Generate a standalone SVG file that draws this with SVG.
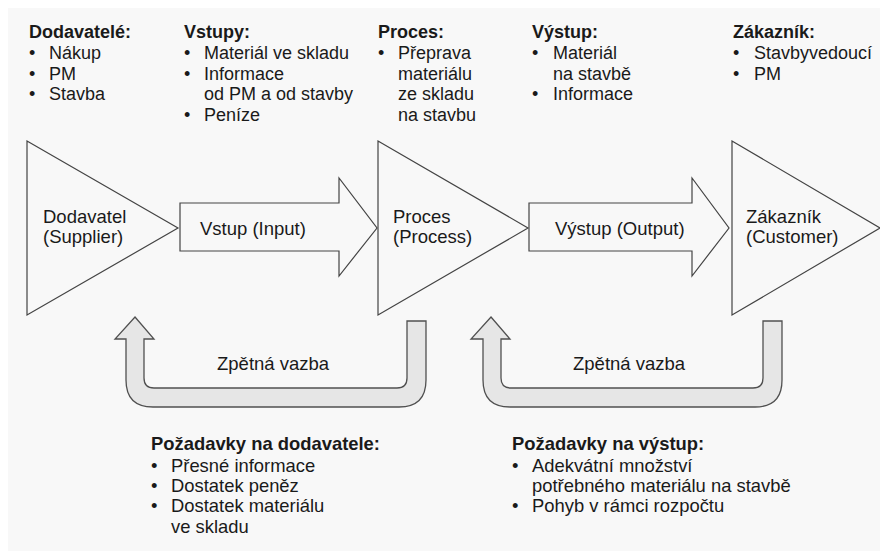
<svg xmlns="http://www.w3.org/2000/svg" width="880" height="551" viewBox="0 0 880 551">
<style>
text{font-family:"Liberation Sans",Arial,sans-serif;fill:#1a1a1a;font-size:18px}
.h{font-weight:bold}
.n{font-size:18.5px}
.b{font-size:18.4px}
.shape{fill:#f8f8f8;stroke:#444;stroke-width:1.2}
.fb{fill:#e6e6e6;stroke:#505050;stroke-width:1.3}
</style>
<rect x="0" y="0" width="880" height="551" fill="#ffffff"/>
<rect x="8" y="8" width="872" height="543" fill="#f8f8f8"/>

<g id="info-dodavatele">
<text class="h" x="29" y="38">Dodavatelé:</text>
<text x="29" y="59">•</text><text x="49" y="59">Nákup</text>
<text x="29" y="79.5">•</text><text x="49" y="79.5">PM</text>
<text x="29" y="100">•</text><text x="49" y="100">Stavba</text>
</g>
<g id="info-vstupy">
<text class="h" x="184" y="38">Vstupy:</text>
<text x="184" y="59">•</text><text x="204" y="59">Materiál ve skladu</text>
<text x="184" y="79.5">•</text><text x="204" y="79.5">Informace</text>
<text x="204" y="100">od PM a od stavby</text>
<text x="184" y="120.5">•</text><text x="204" y="120.5">Peníze</text>
</g>
<g id="info-proces">
<text class="h" x="378" y="38">Proces:</text>
<text x="378" y="59">•</text><text x="398" y="59">Přeprava</text>
<text x="398" y="79.5">materiálu</text>
<text x="398" y="100">ze skladu</text>
<text x="398" y="120.5">na stavbu</text>
</g>
<g id="info-vystup">
<text class="h" x="532" y="38">Výstup:</text>
<text x="532" y="59">•</text><text x="553" y="59">Materiál</text>
<text x="553" y="79.5">na stavbě</text>
<text x="532" y="100">•</text><text x="553" y="100">Informace</text>
</g>
<g id="info-zakaznik">
<text class="h" x="733" y="38">Zákazník:</text>
<text x="733" y="59">•</text><text x="754" y="59">Stavbyvedoucí</text>
<text x="733" y="79.5">•</text><text x="754" y="79.5">PM</text>
</g>

<g id="connectors">
<g id="arrow-vstup">
<polygon class="shape" points="180,203 339,203 339,178 377,228 339,276 339,251 180,251"/>
<text class="n" x="200" y="235">Vstup (Input)</text>
</g>
<g id="arrow-vystup">
<polygon class="shape" points="529,203 692,203 692,178 729,228 692,276 692,251 529,251"/>
<text class="n" x="555" y="235">Výstup (Output)</text>
</g>
<g id="feedback-1">
<path class="fb" d="M135,317 L154,339 L144,339 L144,378 Q144,388 154,388 L397,388 Q407,388 407,378 L407,321 L426,321 L426,380 Q426,407 399,407 L153,407 Q126,407 126,380 L126,339 L115,339 Z"/>
<text class="n" x="217" y="370">Zpětná vazba</text>
</g>
<g id="feedback-2">
<path class="fb" d="M491,317 L510,339 L501,339 L501,378 Q501,388 511,388 L753,388 Q763,388 763,378 L763,321 L782,321 L782,380 Q782,407 755,407 L510,407 Q483,407 483,380 L483,339 L471,339 Z"/>
<text class="n" x="573" y="370">Zpětná vazba</text>
</g>
</g>

<g id="node-dodavatel">
<polygon class="shape" points="27,141 178,228 27,315"/>
<text class="n" x="43" y="223">Dodavatel</text>
<text class="n" x="43" y="243">(Supplier)</text>
</g>
<g id="node-proces">
<polygon class="shape" points="378,141 528,228 378,315"/>
<text class="n" x="393" y="223">Proces</text>
<text class="n" x="393" y="243">(Process)</text>
</g>
<g id="node-zakaznik">
<polygon class="shape" points="732,141 880,228 732,315"/>
<text class="n" x="746" y="223">Zákazník</text>
<text class="n" x="746" y="243">(Customer)</text>
</g>

<g id="req-dodavatele">
<text class="h b" x="151" y="450">Požadavky na dodavatele:</text>
<text class="b" x="151" y="472">•</text><text class="b" x="171" y="472">Přesné informace</text>
<text class="b" x="151" y="492">•</text><text class="b" x="171" y="492">Dostatek peněz</text>
<text class="b" x="151" y="512">•</text><text class="b" x="171" y="512">Dostatek materiálu</text>
<text class="b" x="171" y="533">ve skladu</text>
</g>
<g id="req-vystup">
<text class="h b" x="512" y="450">Požadavky na výstup:</text>
<text class="b" x="512" y="472">•</text><text class="b" x="532" y="472">Adekvátní množství</text>
<text class="b" x="532" y="492">potřebného materiálu na stavbě</text>
<text class="b" x="512" y="512">•</text><text class="b" x="532" y="512">Pohyb v rámci rozpočtu</text>
</g>
</svg>
